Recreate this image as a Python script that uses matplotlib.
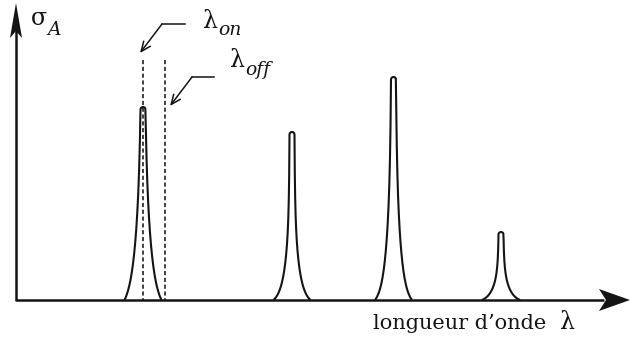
import numpy as np
import matplotlib
matplotlib.use("Agg")
import matplotlib.pyplot as plt
from matplotlib.patches import Polygon

plt.rcParams['lines.scale_dashes'] = False

# ---- data (drawing units: x to the right, y downward, baseline at 300) ----
baseline = 300
peak_centers = [143, 292, 393.5, 501]
peak_heights = [193, 168, 223, 68]          # height of each peak above the baseline
peak_halfwidths = [18.5, 18.5, 18.5, 19]    # half width at the baseline
peak_neck = [0.85, 0.52, 0.70, 0.52]        # fraction of height where the narrow neck ends
peak_decay = [6.0, 5.5, 5.0, 6.5]           # decay length of the flanks
lambda_on = 143
lambda_off = 165
label_x = "longueur d\u2019onde"
label_y = "\u03c3"

fig = plt.figure(figsize=(6.31, 3.40), dpi=100)
ax = fig.add_axes([0, 0, 1, 1])
ax.set_xlim(0, 631)
ax.set_ylim(340, 0)
ax.axis('off')

FONT = 'DejaVu Serif'
K = '#141414'

# peaks
d = 2.5
k = 3.0
for c, H, hw, u0, s in zip(peak_centers, peak_heights, peak_halfwidths,
                           peak_neck, peak_decay):
    X = hw - d
    Lmin = u0 / (np.exp(k * X / s) - 1) ** (1 / k)
    L = np.geomspace(Lmin, 1.0, 600)
    off = (s / k) * np.log1p((u0 / L) ** k)
    off = off - off[-1] * (L - Lmin) / (1 - Lmin)   # zero offset right at the cap
    h = (H - d) * (L - Lmin) / (1 - Lmin)
    xr = c + d + off
    yr = baseline - h
    th = np.linspace(0, np.pi, 60)
    cap_x = c + d * np.cos(th)
    cap_y = baseline - (H - d) - d * np.sin(th)
    xl = 2 * c - xr
    x = np.concatenate([xr, cap_x, xl[::-1]])
    y = np.concatenate([yr, cap_y, yr[::-1]])
    ax.plot(x, y, color=K, lw=1.5, solid_capstyle='butt', zorder=3)

# dashed lines
for lx in (lambda_on, lambda_off):
    ax.plot([lx, lx], [60, baseline], color='#333333', lw=1.3,
            dashes=(3.0, 1.9), zorder=2)

# axes
ax.plot([16, 604], [baseline, baseline], color=K, lw=1.8, zorder=4,
        solid_capstyle='butt')
ax.add_patch(Polygon([[630, baseline], [599, baseline - 11], [606, baseline],
                      [599, baseline + 11]], closed=True, color=K, lw=0, zorder=5))
ax.plot([16, 16], [baseline + 0.6, 30], color=K, lw=1.8, zorder=4,
        solid_capstyle='butt')
ax.add_patch(Polygon([[16, 3], [10, 38], [16, 31], [22, 38]], closed=True,
                     color=K, lw=0, zorder=5))

# pointer arrows
for (x0, y0, x1, y1, tx, ty) in [(185, 24, 162, 24, 140, 53),
                                 (214, 77, 192, 77, 170, 106)]:
    ax.plot([x0, x1], [y0, y1], color=K, lw=1.1)
    ax.annotate('', xy=(tx, ty), xytext=(x1, y1),
                arrowprops=dict(arrowstyle='->,head_length=0.7,head_width=0.3',
                                color=K, lw=1.1, shrinkA=0, shrinkB=0))

# texts
ax.text(203, 28, '\u03bb', fontsize=17, family=FONT, va='baseline', ha='left', color=K)
ax.text(218, 35, 'on', fontsize=13.5, family=FONT, style='italic', va='baseline', ha='left', color=K)
ax.text(230, 67, '\u03bb', fontsize=17, family=FONT, va='baseline', ha='left', color=K)
ax.text(245, 75, 'off', fontsize=13.5, family=FONT, style='italic', va='baseline', ha='left', color=K)
ax.text(31, 25, label_y, fontsize=17, family=FONT, va='baseline', ha='left', color=K)
ax.text(47, 35, 'A', fontsize=13.5, family=FONT, style='italic', va='baseline', ha='left', color=K)
ax.text(373, 329, label_x, fontsize=15, family=FONT, va='baseline', ha='left', color=K)
ax.text(560, 329, '\u03bb', fontsize=17, family=FONT, va='baseline', ha='left', color=K)

fig.savefig('out.png', dpi=100)
